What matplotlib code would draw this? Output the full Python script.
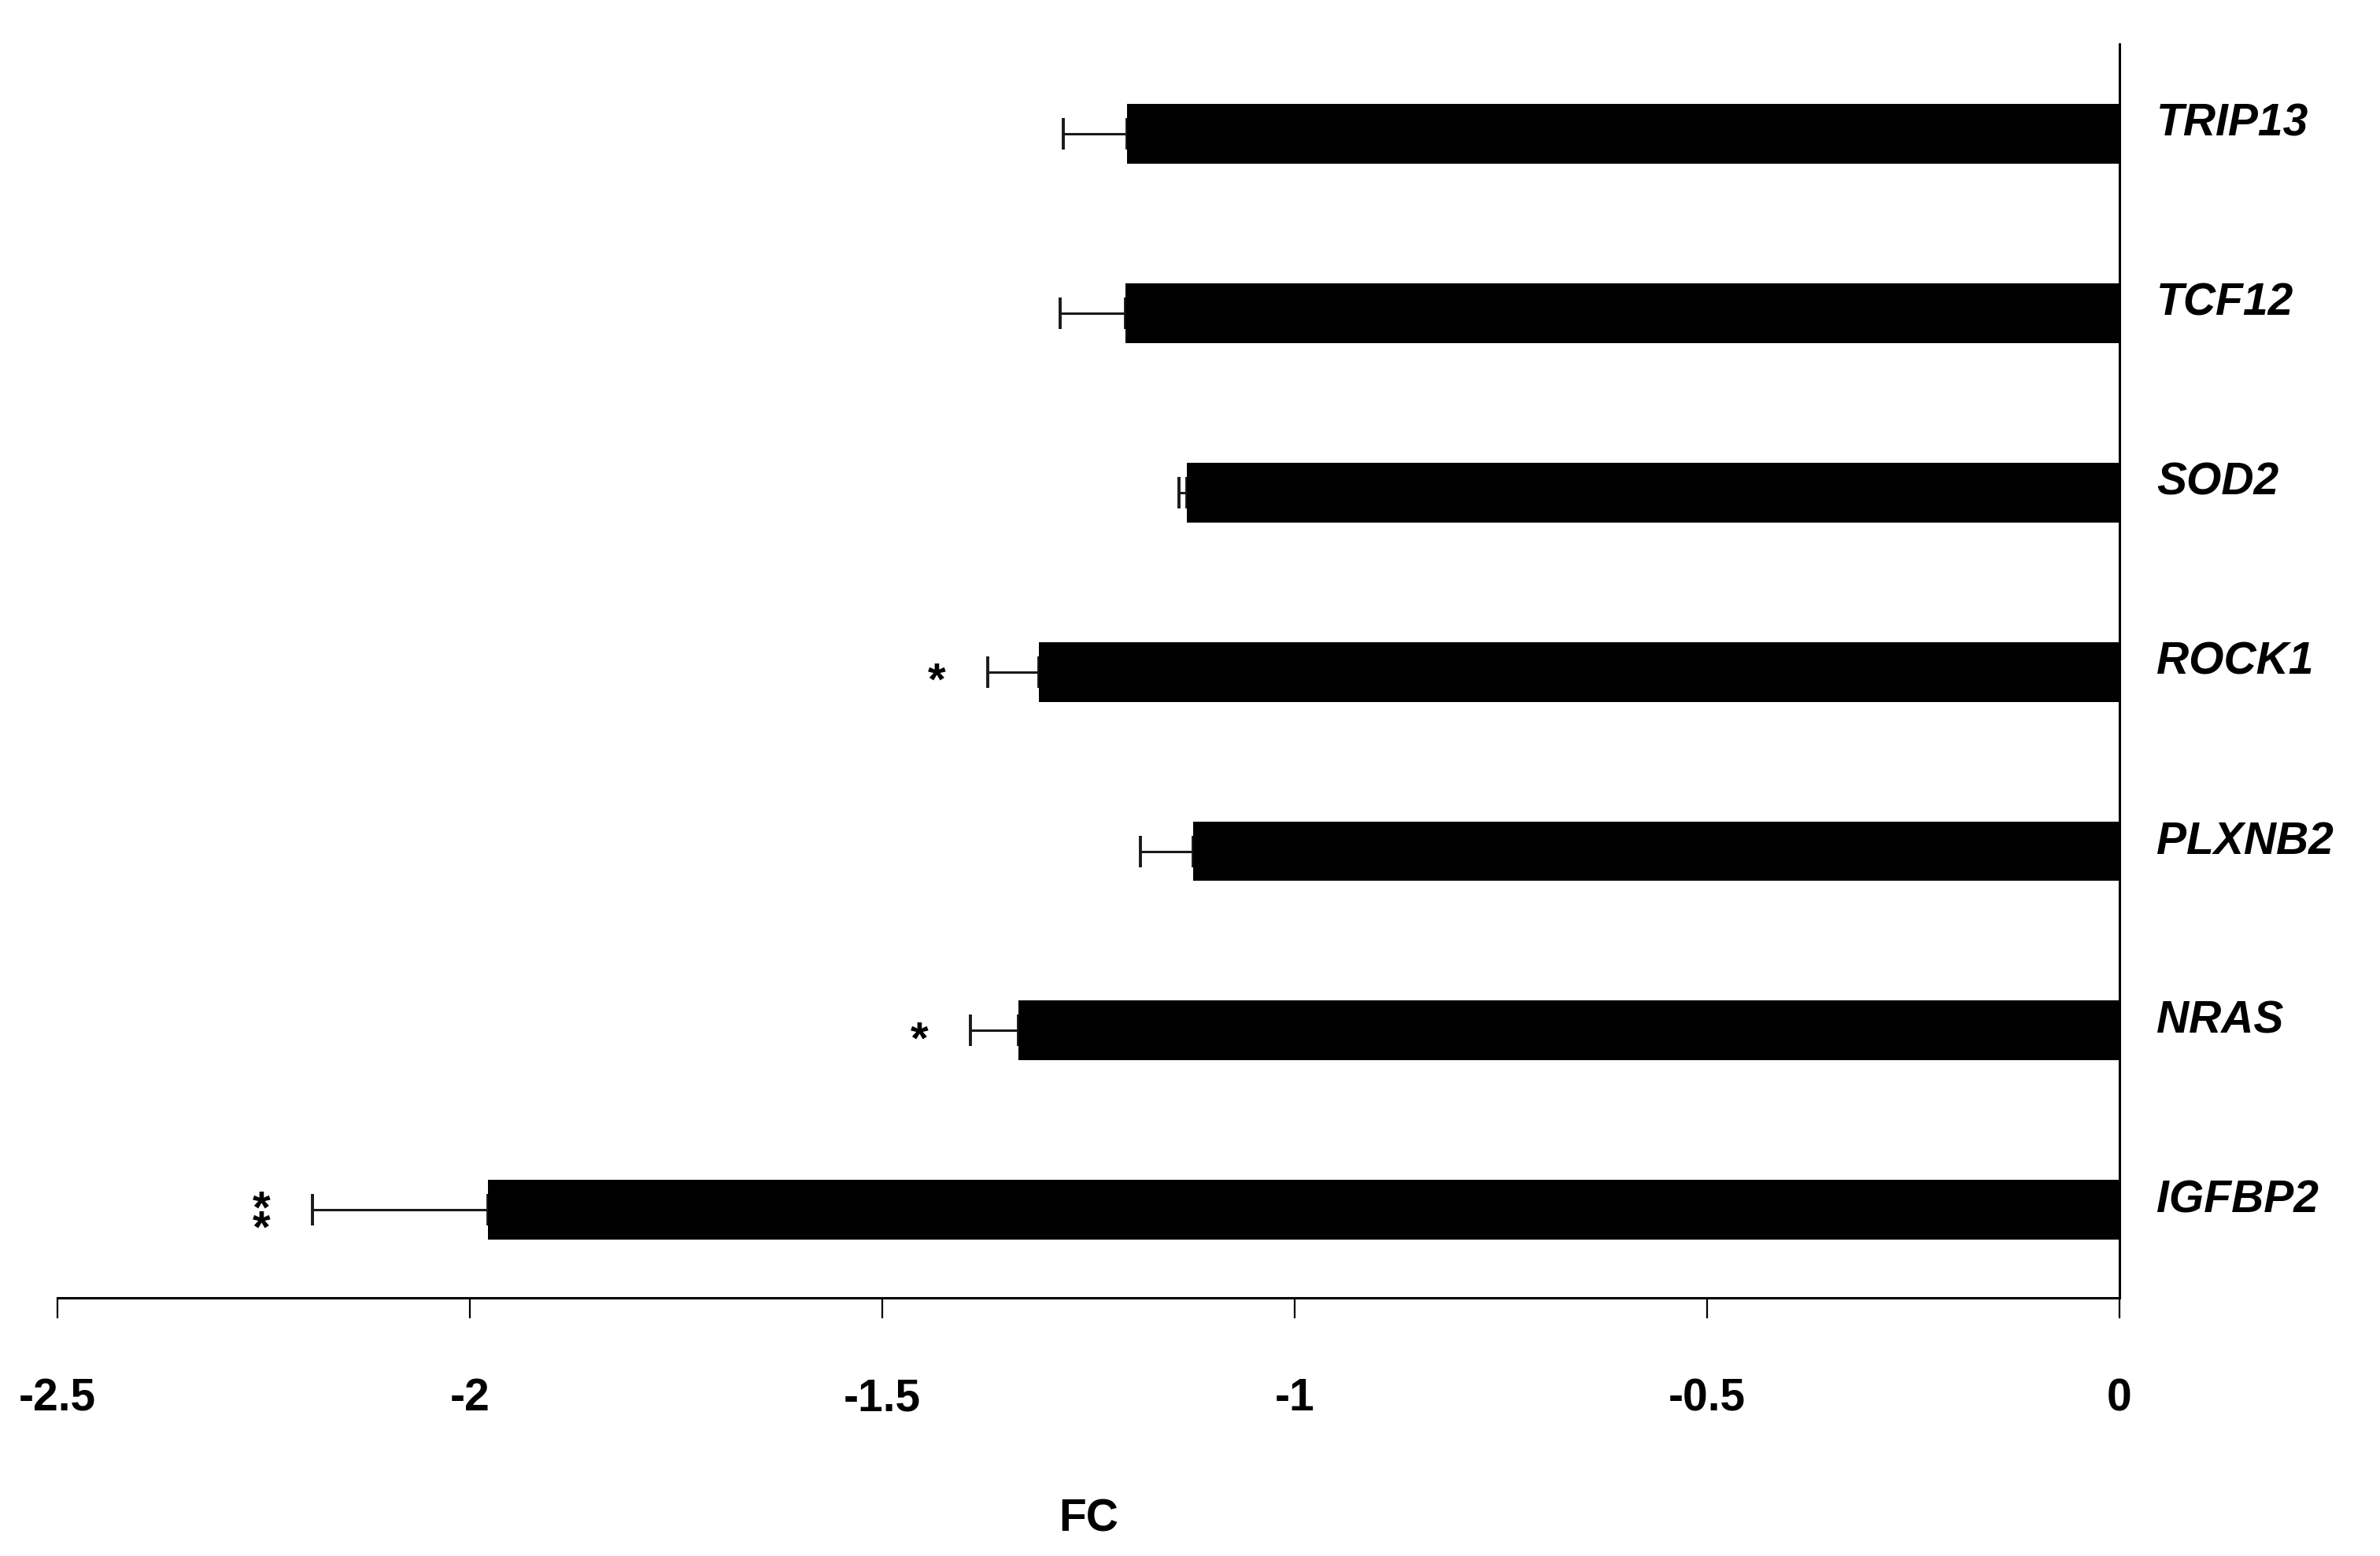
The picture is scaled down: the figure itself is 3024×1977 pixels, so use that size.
import numpy as np
import matplotlib
matplotlib.use("Agg")
import matplotlib.pyplot as plt
import matplotlib.transforms as mtransforms

plt.rcParams['font.family'] = ['Liberation Sans', 'DejaVu Sans']

genes = ['TRIP13', 'TCF12', 'SOD2', 'ROCK1', 'PLXNB2', 'NRAS', 'IGFBP2']
fc = np.array([-1.203, -1.205, -1.131, -1.310, -1.123, -1.335, -1.978])
err = np.array([0.078, 0.079, 0.009, 0.062, 0.064, 0.058, 0.213])
sig = ['', '', '', '*', '', '*', '**']

xticks = [-2.5, -2, -1.5, -1, -0.5, 0]
xtick_labels = ['-2.5', '-2', '-1.5', '-1', '-0.5', '0']

fig = plt.figure(figsize=(30.24, 19.77), dpi=100)
ax = fig.add_axes([73 / 3024, 1 - 1649 / 1977, (2693 - 73) / 3024, (1649 - 56) / 1977])

ypos = np.arange(len(genes))[::-1]

ax.errorbar(fc, ypos, xerr=[err, np.zeros_like(err)], fmt='none', ecolor='#1a1a1a',
            elinewidth=2.2, capsize=14.5, capthick=2.8, zorder=1)
ax.barh(ypos, fc, height=0.333, color='black', zorder=2)

# étoiles de significativité (** empilées verticalement)
for y, v, e, s in zip(ypos, fc, err, sig):
    if s:
        ax.text(v - e - 0.062, y - 0.06, '\n'.join(s), ha='center', va='center',
                fontsize=42, fontweight='bold', linespacing=0.32)

ax.set_xlim(-2.5, 0)
ax.set_ylim(-0.49, 6.5)

ax.spines['top'].set_visible(False)
ax.spines['left'].set_visible(False)
ax.spines['right'].set_position(('data', 0))
ax.spines['right'].set_linewidth(2.2)
ax.spines['bottom'].set_linewidth(2.2)

ax.set_xticks(xticks)
ax.set_xticklabels(xtick_labels, fontsize=41, fontweight='bold')
ax.tick_params(axis='x', length=19, width=1.6, pad=54)

ax.yaxis.tick_right()
ax.set_yticks(ypos)
ax.set_yticklabels(genes, fontsize=41, fontweight='bold', fontstyle='italic')
ax.tick_params(axis='y', length=0, pad=34)
shift = mtransforms.ScaledTranslation(0, 0.18, fig.dpi_scale_trans)
for lab in ax.get_yticklabels():
    lab.set_transform(lab.get_transform() + shift)

ax.set_xlabel('FC', fontsize=41, fontweight='bold', labelpad=71)

fig.savefig('out.png', dpi=100)
